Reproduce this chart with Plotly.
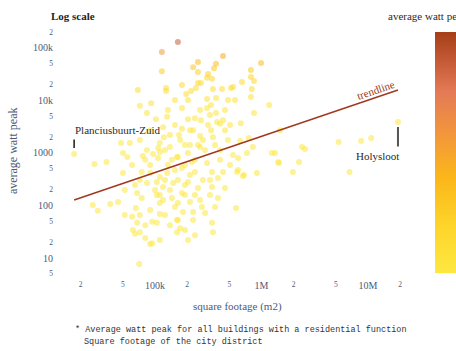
import math
import plotly.graph_objects as go

# Square footage (m2) and average watt peak per city district
sq_footage = [
    164000, 116000, 116000, 69000, 127000, 127000, 72000, 92000, 84000, 102000,
    130000, 119000, 121000, 58000, 48000, 111000, 435000, 990000, 228000, 253000,
    374000, 358000, 253000, 795000, 315000, 308000, 343000, 795000, 850000, 179000,
    253000, 270000, 242000, 218000, 196000, 655000, 350000, 426000, 517000, 810000,
    795000, 484000, 308000, 374000, 1180000, 179000, 308000, 336000, 850000, 374000,
    204000, 270000, 435000, 382000, 640000, 315000, 408000, 179000, 228000, 336000,
    454000, 168000, 265000, 350000, 630000, 760000, 191000, 253000, 366000, 282000,
    830000, 1490000, 17400, 27000, 35000, 50000, 55000, 77000, 96000, 111000,
    107000, 138000, 161000, 50000, 75000, 90000, 111000, 130000, 65000, 84000,
    104000, 119000, 148000, 68000, 75000, 104000, 119000, 111000, 154000, 26000,
    29000, 38000, 45000, 66000, 61000, 72000, 68000, 94000, 111000, 104000,
    161000, 62000, 72000, 65000, 81000, 94000, 90000, 161000, 71000, 213000,
    265000, 164000, 204000, 222000, 308000, 408000, 540000, 730000, 602000, 1250000,
    1340000, 1430000, 1970000, 179000, 237000, 343000, 435000, 590000, 905000, 670000,
    164000, 204000, 282000, 390000, 343000, 253000, 454000, 179000, 237000, 328000,
    390000, 164000, 213000, 276000, 366000, 576000, 183000, 228000, 295000, 164000,
    228000, 343000, 172000, 350000, 204000, 19100000, 2400000, 2560000, 2250000, 5300000,
    8600000, 10700000, 6700000, 1460000, 685000, 602000, 540000,
    124000, 144000, 191000, 132000, 154000, 213000, 138000, 191000, 237000, 295000,
    172000, 138000, 107000, 124000, 90000, 81000, 100000, 111000, 144000, 191000,
    265000, 328000, 408000, 484000, 506000, 213000, 154000, 328000, 265000, 132000,
    454000, 563000, 204000, 154000, 237000, 506000, 90000, 72000, 84000, 61000,
    72000, 52000, 90000, 124000, 138000, 191000, 237000, 111000, 81000, 52000,
]
watt_peak = [
    130000, 84000, 36000, 15900, 17300, 15200, 7900, 8900, 5800, 4400,
    4900, 3100, 2000, 1550, 1550, 1550, 70000, 52000, 43000, 54000,
    50000, 41000, 35000, 38000, 32000, 27000, 26000, 28000, 23500, 19700,
    21500, 21500, 17300, 15200, 13300, 22500, 16600, 16600, 17300, 16600,
    11700, 10200, 10700, 11200, 8200, 7200, 7200, 8200, 5800, 5800,
    4400, 4200, 4200, 3900, 3700, 3400, 3600, 2900, 2700, 2700,
    2700, 2200, 2100, 2000, 1690, 1930, 1420, 1420, 1420, 1770,
    1300, 2700, 960, 620, 675, 1000, 840, 880, 960, 1040,
    800, 1300, 840, 415, 435, 415, 350, 415, 245, 268,
    280, 225, 268, 173, 139, 159, 127, 112, 94, 102,
    79, 107, 117, 90, 61, 66, 47, 49, 69, 47,
    53, 34, 31, 29, 24, 19, 18.5, 31, 7.7, 1420,
    1300, 840, 1000, 675, 645, 740, 920, 1000, 800, 1000,
    1000, 675, 435, 520, 435, 435, 435, 435, 415, 365,
    305, 280, 305, 335, 225, 215, 215, 173, 159, 159,
    139, 112, 117, 94, 94, 90, 75, 75, 72, 53,
    53, 47, 37, 31, 22, 3900, 1300, 1190, 675, 1620,
    1690, 1930, 435, 645, 380, 475, 18000,
    1140, 740, 590, 590, 475, 380, 197, 245, 740, 1140,
    1770, 2200, 1240, 305, 590, 740, 197, 159, 139, 159,
    127, 305, 1140, 1770, 590, 2700, 3400, 5300, 6600, 6600,
    6600, 10200, 10200, 10200, 4600, 3400, 2700, 1770, 1140, 590,
    305, 197, 82, 66, 42, 34, 27, 22, 42, 66,
]

# Labelled districts: name, square footage, watt peak
label_names = ["Planciusbuurt-Zuid", "Holysloot"]
label_sq = [17400, 19100000]
label_wp = [960, 3900]

# Fitted trendline end points
trend_sq = [17400, 19100000]
trend_wp = [127, 15900]

SERIF = "Liberation Serif"
AXIS_BLUE = "#4d5a78"

colorscale = [
    [0.0, "#fde840"],
    [0.2, "#fdd42a"],
    [0.4, "#fbb61a"],
    [0.58, "#f2963c"],
    [0.75, "#e47a56"],
    [1.0, "#a63e18"],
]

fig = go.Figure()

fig.add_trace(go.Scatter(
    x=sq_footage, y=watt_peak, mode="markers",
    marker=dict(
        size=6, opacity=0.55, color=watt_peak, colorscale=colorscale,
        cmin=0, cmax=150000, line=dict(width=0),
        colorbar=dict(
            x=1.0714, xanchor="left", y=0.961, yanchor="top",
            thickness=26, len=241, lenmode="pixels",
            outlinewidth=0, xpad=0, ypad=0, showticklabels=False, ticks="",
        ),
    ),
    hoverinfo="skip", showlegend=False,
))

fig.add_trace(go.Scatter(
    x=trend_sq, y=trend_wp, mode="lines",
    line=dict(color="#a03a1f", width=1.6),
    hoverinfo="skip", showlegend=False,
))

annotations = []

# District labels, each joined to its dot by a short plain tick
for name, sq, wp in zip(label_names, label_sq, label_wp):
    lx, ly = math.log10(sq), math.log10(wp)
    left_side = sq < 1e6
    annotations.append(dict(
        x=lx, y=ly, xref="x", yref="y", text=name, showarrow=False,
        xanchor="left" if left_side else "right", yanchor="middle",
        yshift=24 if left_side else -34, xshift=-1 if left_side else 3,
        font=dict(family=SERIF, size=11, color="#2a2a2a"),
    ))
    annotations.append(dict(
        x=lx, y=ly, xref="x", yref="y", text="", showarrow=True,
        arrowhead=0, arrowwidth=1.5 if left_side else 2,
        arrowcolor="#1a1a1a" if left_side else "#555555",
        ax=0, ay=-16 if left_side else 26,
        standoff=6 if left_side else 5, font=dict(size=1),
    ))

# "trendline" label placed along the line near its end
f = 0.93
tx = math.log10(trend_sq[0]) + f * (math.log10(trend_sq[1]) - math.log10(trend_sq[0]))
ty = math.log10(trend_wp[0]) + f * (math.log10(trend_wp[1]) - math.log10(trend_wp[0]))
annotations.append(dict(
    x=tx, y=ty, xref="x", yref="y", text="trendline", showarrow=False,
    textangle=-19, yshift=8, font=dict(family=SERIF, size=11, color="#9c3b22"),
))

annotations += [
    dict(x=-0.031, y=1.0234, xref="paper", yref="paper", text="<b>Log scale</b>",
         showarrow=False, xanchor="left", yanchor="middle",
         font=dict(family=SERIF, size=11, color="#1f1f1f")),
    dict(x=0.931, y=1.0234, xref="paper", yref="paper", text="average watt peak",
         showarrow=False, xanchor="left", yanchor="middle",
         font=dict(family=SERIF, size=11, color="#2a2a2a")),
    dict(x=-0.134, y=0.496, xref="paper", yref="paper", text="average watt peak",
         showarrow=False, textangle=-90, xanchor="center", yanchor="middle",
         font=dict(family=SERIF, size=12, color=AXIS_BLUE)),
    dict(x=0.506, y=-0.113, xref="paper", yref="paper", text="square footage (m2)",
         showarrow=False, xanchor="center", yanchor="middle",
         font=dict(family=SERIF, size=11, color=AXIS_BLUE)),
    dict(x=0.036, y=-0.203, xref="paper", yref="paper",
         text="* Average watt peak for all buildings with a residential function",
         showarrow=False, xanchor="left", yanchor="middle",
         font=dict(family="Liberation Mono", size=8.5, color="#333333")),
    dict(x=0.062, y=-0.25, xref="paper", yref="paper",
         text="Square footage of the city district",
         showarrow=False, xanchor="left", yanchor="middle",
         font=dict(family="Liberation Mono", size=8.5, color="#333333")),
]

axis_common = dict(
    type="log", dtick="D2", showgrid=False, zeroline=False, showline=False,
    ticks="", tickfont=dict(family=SERIF, size=10, color=AXIS_BLUE),
)

fig.update_layout(
    width=456, height=351,
    margin=dict(l=60, r=46, t=22, b=73, autoexpand=False),
    paper_bgcolor="white", plot_bgcolor="white",
    xaxis=dict(range=[4.108, 7.394], **axis_common),
    yaxis=dict(range=[0.619, 5.495], ticklabelstandoff=6, **axis_common),
    annotations=annotations,
    showlegend=False,
)

fig.write_html("out.html")
